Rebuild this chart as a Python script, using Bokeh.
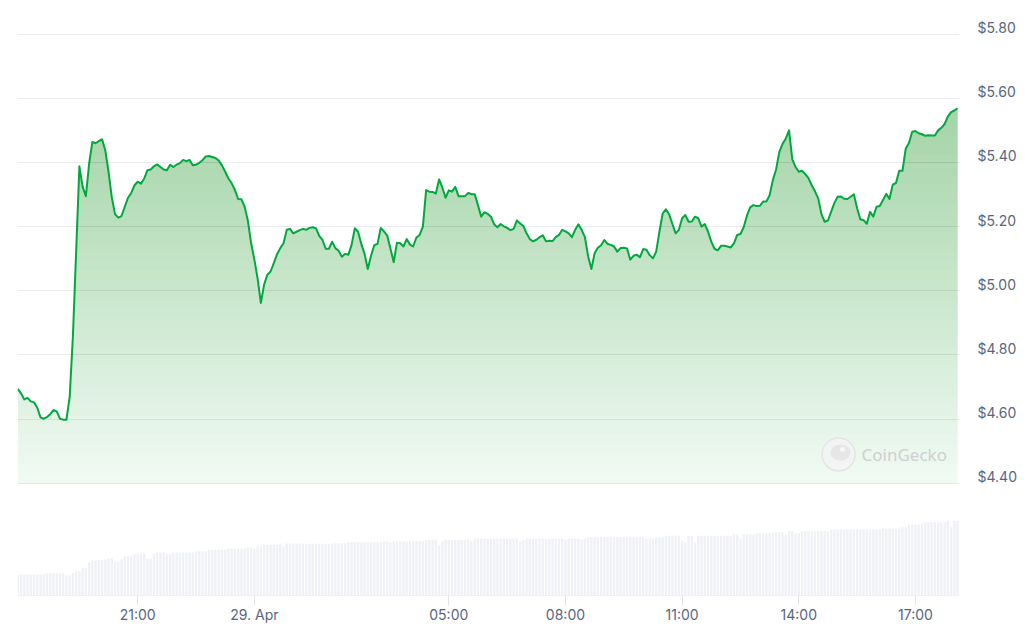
import numpy as np
from bokeh.plotting import figure
from bokeh.models import Range1d, FixedTicker
from bokeh.core.properties import value
from bokeh.embed import file_html
from bokeh.resources import INLINE

# ---------------- data ----------------
start_time = "2024-04-28T17:55"
step_minutes = 5

price = [
    4.694, 4.680, 4.661, 4.666, 4.655, 4.652, 4.635, 4.605, 4.601, 4.606,
    4.615, 4.628, 4.624, 4.601, 4.598, 4.598, 4.668, 4.859, 5.122, 5.388,
    5.324, 5.295, 5.396, 5.464, 5.460, 5.467, 5.472, 5.438, 5.371, 5.291,
    5.239, 5.228, 5.233, 5.262, 5.290, 5.305, 5.329, 5.340, 5.334, 5.350,
    5.376, 5.378, 5.388, 5.394, 5.386, 5.378, 5.376, 5.393, 5.386, 5.393,
    5.398, 5.408, 5.404, 5.408, 5.391, 5.393, 5.399, 5.407, 5.419, 5.420,
    5.417, 5.414, 5.406, 5.391, 5.371, 5.350, 5.335, 5.314, 5.286, 5.285,
    5.262, 5.218, 5.148, 5.097, 5.038, 4.962, 5.019, 5.050, 5.060, 5.086,
    5.114, 5.133, 5.148, 5.190, 5.193, 5.179, 5.184, 5.189, 5.193, 5.190,
    5.196, 5.198, 5.195, 5.171, 5.159, 5.131, 5.131, 5.153, 5.133, 5.125,
    5.106, 5.115, 5.112, 5.143, 5.195, 5.184, 5.146, 5.115, 5.068, 5.109,
    5.142, 5.146, 5.196, 5.185, 5.172, 5.131, 5.089, 5.150, 5.148, 5.138,
    5.161, 5.144, 5.138, 5.166, 5.174, 5.200, 5.314, 5.309, 5.308, 5.303,
    5.347, 5.322, 5.290, 5.313, 5.309, 5.324, 5.295, 5.295, 5.295, 5.305,
    5.301, 5.301, 5.267, 5.231, 5.245, 5.240, 5.231, 5.207, 5.198, 5.208,
    5.201, 5.196, 5.189, 5.193, 5.219, 5.210, 5.202, 5.179, 5.161, 5.154,
    5.159, 5.167, 5.173, 5.154, 5.156, 5.155, 5.167, 5.174, 5.190, 5.185,
    5.179, 5.167, 5.190, 5.207, 5.190, 5.167, 5.107, 5.068, 5.117, 5.134,
    5.142, 5.158, 5.146, 5.143, 5.138, 5.122, 5.133, 5.134, 5.132, 5.097,
    5.109, 5.112, 5.105, 5.130, 5.128, 5.111, 5.101, 5.122, 5.184, 5.241,
    5.254, 5.238, 5.208, 5.179, 5.190, 5.226, 5.236, 5.215, 5.216, 5.231,
    5.226, 5.200, 5.208, 5.184, 5.153, 5.131, 5.126, 5.140, 5.140, 5.138,
    5.135, 5.148, 5.174, 5.177, 5.198, 5.234, 5.260, 5.267, 5.264, 5.265,
    5.278, 5.278, 5.298, 5.345, 5.378, 5.433, 5.458, 5.475, 5.500, 5.410,
    5.386, 5.371, 5.374, 5.364, 5.351, 5.329, 5.310, 5.288, 5.239, 5.215,
    5.219, 5.247, 5.274, 5.293, 5.294, 5.287, 5.286, 5.293, 5.301, 5.257,
    5.223, 5.220, 5.209, 5.246, 5.231, 5.262, 5.264, 5.283, 5.302, 5.286,
    5.331, 5.336, 5.374, 5.374, 5.443, 5.461, 5.496, 5.498, 5.491, 5.488,
    5.483, 5.485, 5.484, 5.484, 5.500, 5.508, 5.520, 5.543, 5.557, 5.562,
    5.569,
]

volume = [
    21.0, 21.0, 21.0, 21.0, 21.0, 21.0, 21.0, 21.0, 21.0, 22.3,
    22.3, 22.3, 22.3, 22.3, 22.3, 20.3, 20.3, 22.3, 24.3, 24.3,
    27.7, 27.7, 33.0, 35.0, 35.0, 35.7, 35.7, 35.7, 37.0, 37.0,
    33.3, 33.3, 36.7, 39.3, 39.3, 39.3, 41.7, 41.7, 41.7, 41.7,
    36.7, 36.7, 41.7, 43.0, 43.0, 43.0, 41.7, 41.7, 43.0, 43.0,
    43.0, 43.0, 43.0, 43.0, 43.0, 44.3, 44.3, 44.3, 44.3, 45.7,
    45.7, 45.7, 45.7, 45.7, 45.7, 47.0, 47.0, 47.0, 47.0, 47.0,
    47.0, 48.0, 48.0, 46.7, 49.0, 49.0, 50.7, 50.7, 50.7, 50.7,
    50.7, 51.7, 49.3, 52.0, 52.0, 52.0, 52.0, 52.0, 51.7, 51.7,
    51.7, 51.7, 51.7, 51.7, 51.7, 51.7, 51.7, 51.7, 52.3, 52.3,
    52.3, 52.3, 53.3, 53.3, 53.3, 53.3, 53.3, 53.3, 53.3, 53.3,
    53.3, 53.3, 53.3, 54.3, 54.3, 53.0, 54.3, 54.3, 54.3, 54.3,
    54.3, 54.3, 54.3, 54.3, 54.3, 54.3, 55.7, 55.7, 55.7, 55.7,
    50.7, 54.3, 55.7, 55.7, 55.7, 55.7, 55.7, 55.7, 55.7, 56.3,
    54.3, 57.0, 57.0, 57.0, 57.0, 57.0, 57.0, 57.0, 57.0, 57.0,
    57.0, 57.0, 57.0, 57.0, 57.0, 54.0, 55.3, 57.0, 57.0, 57.0,
    57.0, 57.0, 57.0, 57.0, 57.0, 57.0, 57.0, 57.0, 57.0, 55.7,
    57.0, 57.0, 57.0, 57.0, 55.7, 57.0, 58.3, 58.3, 58.3, 58.3,
    58.3, 58.3, 58.3, 58.3, 58.3, 58.3, 58.3, 58.3, 58.3, 58.3,
    58.3, 58.3, 58.3, 58.3, 57.0, 57.0, 57.0, 58.3, 58.3, 58.3,
    59.7, 59.7, 59.7, 59.7, 59.7, 55.0, 53.0, 59.7, 59.7, 53.0,
    59.7, 59.7, 59.7, 59.7, 59.7, 59.7, 59.7, 59.7, 59.7, 59.7,
    59.7, 61.0, 61.0, 57.0, 61.3, 61.3, 61.3, 61.3, 62.3, 62.3,
    62.3, 62.3, 62.3, 62.3, 63.3, 63.3, 63.3, 60.7, 64.3, 64.3,
    62.3, 62.3, 64.3, 64.3, 64.3, 64.3, 64.3, 64.3, 64.3, 64.3,
    64.3, 66.0, 66.0, 66.0, 66.0, 66.0, 66.0, 66.0, 66.0, 66.0,
    66.0, 66.0, 66.0, 66.0, 66.0, 66.0, 66.0, 67.3, 67.0, 67.0,
    67.0, 67.0, 67.0, 68.3, 68.3, 71.0, 71.0, 71.0, 71.0, 72.0,
    73.3, 73.3, 73.3, 73.3, 73.3, 73.3, 73.3, 74.7, 68.3, 74.7,
    74.7,
]

tick_times = ["2024-04-28T21:00", "2024-04-29T00:00", "2024-04-29T05:00",
              "2024-04-29T08:00", "2024-04-29T11:00", "2024-04-29T14:00",
              "2024-04-29T17:00"]
tick_labels = ["21:00", "29. Apr", "05:00", "08:00", "11:00", "14:00", "17:00"]
price_ticks = [4.40, 4.60, 4.80, 5.00, 5.20, 5.40, 5.60, 5.80]
price_tick_labels = ["$4.40", "$4.60", "$4.80", "$5.00", "$5.20", "$5.40", "$5.60", "$5.80"]

# ---------------- derived ----------------
n = min(len(price), len(volume))
price_arr = np.array(price[:n], dtype=float)
vol_arr = np.array(volume[:n], dtype=float)
step_ms = step_minutes * 60 * 1000
t0 = np.datetime64(start_time).astype("datetime64[ms]").astype(np.int64)
times = (t0 + np.arange(n) * step_ms).astype(float)
tick_ms = [float(np.datetime64(t).astype("datetime64[ms]").astype(np.int64)) for t in tick_times]

GREEN = "#00a83e"
TEXT = "#58667e"
FONT = "Inter"
PX_PER_USD = 320.7

p = figure(
    frame_width=942, frame_height=575,
    x_range=Range1d(times[0] - 0.1 * step_ms, times[0] + 290.6 * step_ms),
    y_range=Range1d(4.0497, 5.8427),
    y_axis_location="right",
    output_backend="svg", toolbar_location=None,
    min_border_left=17, min_border_top=20, min_border_right=0, min_border_bottom=0,
)
p.extra_y_ranges = {"vol": Range1d(0, 575)}
p.outline_line_color = None
p.background_fill_color = "white"
p.border_fill_color = "white"

# grid
p.xgrid.visible = False
p.ygrid.ticker = FixedTicker(ticks=price_ticks)
p.ygrid.grid_line_color = "#ebebef"
p.ygrid.grid_line_width = 1

# volume bars
p.vbar(x=times, top=vol_arr, bottom=0, width=0.72 * step_ms, y_range_name="vol",
       fill_color="#eff1f5", line_color=None)

# gradient area under the price line (stacked translucent layers)
fill_base = 4.398
p.varea(x=times, y1=np.full(n, fill_base), y2=price_arr, fill_color=GREEN, fill_alpha=0.05)
levels = np.linspace(4.40, 5.575, 40)
for a in levels:
    p.varea(x=times, y1=np.full(n, a), y2=np.maximum(price_arr, a),
            fill_color=GREEN, fill_alpha=0.0069)

# price line
p.line(times, price_arr, line_color=GREEN, line_width=2, line_join="round")

# watermark (CoinGecko)
def px_to_x(px):
    return times[0] + (px - 17.3) / 3.2403 * step_ms

def px_to_y(py):
    return 5.80 - (py - 33.7) / PX_PER_USD

p.scatter([px_to_x(838)], [px_to_y(454)], size=33, marker="circle",
          fill_color="#f3f3f3", fill_alpha=0.9, line_color="#e4e4e4", line_width=1.5)
p.ellipse([px_to_x(840)], [px_to_y(452)], width=20, height=16, width_units="screen",
          height_units="screen", fill_color="#e6e6e6", line_color=None)
p.scatter([px_to_x(842)], [px_to_y(449)], size=5, marker="circle",
          fill_color="#f7f7f7", line_color=None)
p.text([px_to_x(861)], [px_to_y(454)], text=["CoinGecko"], text_font=value("Noto Sans"),
       text_font_size="17px", text_color="#cfcfcf", text_baseline="middle", text_align="left")

# x axis
xa = p.xaxis[0]
xa.ticker = FixedTicker(ticks=tick_ms)
xa.major_label_overrides = {tm: lab for tm, lab in zip(tick_ms, tick_labels)}
xa.axis_line_color = "#eef0f3"
xa.major_tick_out = 10
xa.major_tick_in = 0
xa.major_tick_line_color = "#e3e5e8"
xa.minor_tick_line_color = None
xa.major_label_standoff = 0
xa.major_label_text_font = FONT
xa.major_label_text_font_size = "14px"
xa.major_label_text_color = TEXT

# y axis (right): labels sit slightly above their grid lines
label_lift = 6.5 / PX_PER_USD
label_pos = [t + label_lift for t in price_ticks]
ya = p.yaxis[0]
ya.ticker = FixedTicker(ticks=label_pos)
ya.major_label_overrides = {lp: lab for lp, lab in zip(label_pos, price_tick_labels)}
ya.axis_line_color = None
ya.major_tick_out = 0
ya.major_tick_in = 0
ya.minor_tick_line_color = None
ya.major_label_standoff = 18
ya.major_label_text_font = FONT
ya.major_label_text_font_size = "14px"
ya.major_label_text_color = TEXT

open("out.html", "w").write(file_html(p, INLINE))
